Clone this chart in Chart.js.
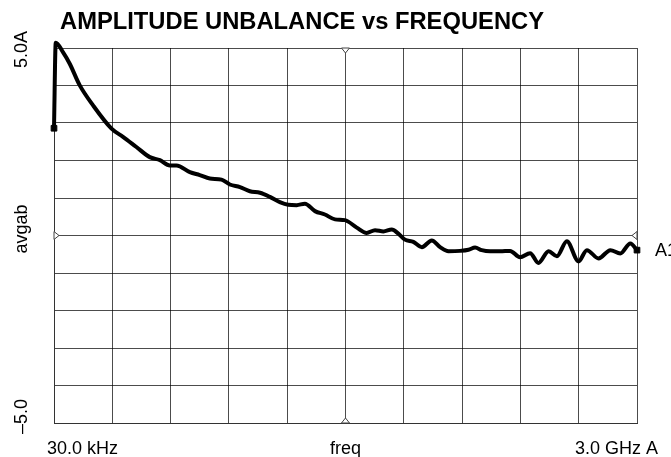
<!DOCTYPE html>
<html>
<head>
<meta charset="utf-8">
<script src="https://cdn.jsdelivr.net/npm/chart.js@4.4.1/dist/chart.umd.min.js"></script>
<style>
  html, body { margin: 0; padding: 0; background: #fff; }
  #wrap { width: 671px; height: 457px; position: relative; }
</style>
</head>
<body>
<div id="wrap"><canvas id="chart"></canvas></div>
<script>
// trace: frequency in MHz, avgab value
const freqMHz = [0.03, 9, 46, 81, 132, 201, 296, 355, 424, 493, 545, 596, 630, 699, 750, 802, 862, 905, 957, 1008,
    1060, 1111, 1162, 1205, 1249, 1291, 1343, 1394, 1446, 1497, 1558, 1609, 1652, 1695, 1738, 1772, 1806, 1849, 1893, 1944,
    1987, 2030, 2090, 2133, 2167, 2201, 2244, 2296, 2347, 2398, 2450, 2493, 2545, 2588, 2639, 2699, 2742, 2802, 2863, 2914,
    2966, 3000];
const avgab = [2.86, 5.14, 4.89, 4.58, 4.01, 3.47, 2.85, 2.63, 2.36, 2.09, 2.01, 1.87, 1.87, 1.69, 1.61, 1.52, 1.49, 1.36, 1.29, 1.18,
    1.14, 1.03, 0.89, 0.82, 0.81, 0.85, 0.65, 0.56, 0.43, 0.41, 0.21, 0.07, 0.14, 0.11, 0.16, 0.05, -0.11, -0.17, -0.31, -0.13,
    -0.31, -0.42, -0.41, -0.38, -0.32, -0.39, -0.42, -0.42, -0.41, -0.58, -0.47, -0.73, -0.42, -0.55, -0.15, -0.69, -0.39, -0.61, -0.39, -0.48,
    -0.21, -0.39];

const chartTitle = 'AMPLITUDE UNBALANCE vs FREQUENCY';
const yTopLabel = '5.0A';
const yBottomLabel = '\u20135.0';
const yAxisName = 'avgab';
const xStartLabel = '30.0 kHz';
const xAxisName = 'freq';
const xEndLabel = '3.0 GHz A';
const traceName = 'A1';

const xMin = 0.03, xMax = 3000, xMid = 1500;
const yMin = -5, yMax = 5, yRef = 0;

const font = "'Liberation Sans', Arial, sans-serif";

function triangle(ctx, x, y, dir) {
    const s = 4;
    ctx.beginPath();
    if (dir === 'down') { ctx.moveTo(x - s, y); ctx.lineTo(x + s, y); ctx.lineTo(x, y + s + 1); }
    if (dir === 'up') { ctx.moveTo(x - s, y); ctx.lineTo(x + s, y); ctx.lineTo(x, y - s - 1); }
    if (dir === 'right') { ctx.moveTo(x, y - s); ctx.lineTo(x, y + s); ctx.lineTo(x + s + 1, y); }
    if (dir === 'left') { ctx.moveTo(x, y - s); ctx.lineTo(x, y + s); ctx.lineTo(x - s - 1, y); }
    ctx.closePath();
    ctx.fillStyle = '#fff';
    ctx.fill();
    ctx.strokeStyle = '#444';
    ctx.lineWidth = 1;
    ctx.stroke();
}

// texts and little reference markers round the graticule
const annotations = {
    id: 'annotations',
    afterDraw(chart) {
        const ctx = chart.ctx;
        const xs = chart.scales.x, ys = chart.scales.y;
        ctx.save();

        triangle(ctx, xs.getPixelForValue(xMid), ys.getPixelForValue(yMax), 'down');
        triangle(ctx, xs.getPixelForValue(xMid), ys.getPixelForValue(yMin), 'up');
        triangle(ctx, xs.getPixelForValue(xMin), ys.getPixelForValue(yRef), 'right');
        triangle(ctx, xs.getPixelForValue(xMax), ys.getPixelForValue(yRef), 'left');

        ctx.fillStyle = '#000';
        ctx.textAlign = 'left';
        ctx.textBaseline = 'alphabetic';

        // title is a bit wider than plain Arial bold
        ctx.font = `bold 23px ${font}`;
        const tw = ctx.measureText(chartTitle).width;
        ctx.save();
        ctx.translate(60, 29);
        ctx.scale(484 / tw, 1);
        ctx.fillText(chartTitle, 0, 0);
        ctx.restore();

        ctx.font = `18px ${font}`;
        ctx.fillText(xStartLabel, 47, 454);
        ctx.fillText(xAxisName, 330, 454);
        ctx.fillText(xEndLabel, 575, 454);
        ctx.textBaseline = 'middle';
        ctx.fillText(traceName, 655, ys.getPixelForValue(yRef) + 16);

        // rotated y labels
        ctx.save();
        ctx.translate(27, 0);
        ctx.rotate(-Math.PI / 2);
        ctx.textBaseline = 'alphabetic';
        ctx.textAlign = 'left';
        ctx.fillText(yTopLabel, -68, 0);
        ctx.textAlign = 'center';
        ctx.fillText(yAxisName, -229, 0);
        ctx.textAlign = 'left';
        ctx.fillText(yBottomLabel, -434, 0);
        ctx.restore();

        ctx.restore();
    }
};

const pointSizes = avgab.map((v, i) => (i === 0 || i === avgab.length - 1) ? 4 : 0);

new Chart(document.getElementById('chart'), {
    type: 'line',
    data: {
        datasets: [{
            label: yAxisName,
            data: freqMHz.map((f, i) => ({ x: f, y: avgab[i] })),
            borderColor: '#000',
            borderWidth: 4,
            cubicInterpolationMode: 'monotone',
            pointStyle: 'rect',
            pointRadius: pointSizes,
            pointBackgroundColor: '#000',
            pointBorderColor: '#000',
            pointBorderWidth: 1,
            clip: false,
        }]
    },
    options: {
        responsive: true,
        maintainAspectRatio: false,
        animation: false,
        layout: { padding: { left: 54, right: 34, top: 48, bottom: 34 } },
        scales: {
            x: {
                type: 'linear',
                min: xMin,
                max: xMax,
                ticks: { display: false, stepSize: 300 },
                grid: { color: 'rgba(0,0,0,0.7)', lineWidth: 1, drawTicks: false },
                border: { display: true, color: '#333', width: 1 }
            },
            y: {
                min: yMin,
                max: yMax,
                ticks: { display: false, stepSize: 1 },
                grid: { color: 'rgba(0,0,0,0.7)', lineWidth: 1, drawTicks: false },
                border: { display: true, color: '#333', width: 1 }
            }
        },
        plugins: {
            legend: { display: false },
            tooltip: { enabled: false }
        }
    },
    plugins: [annotations]
});
</script>
</body>
</html>
